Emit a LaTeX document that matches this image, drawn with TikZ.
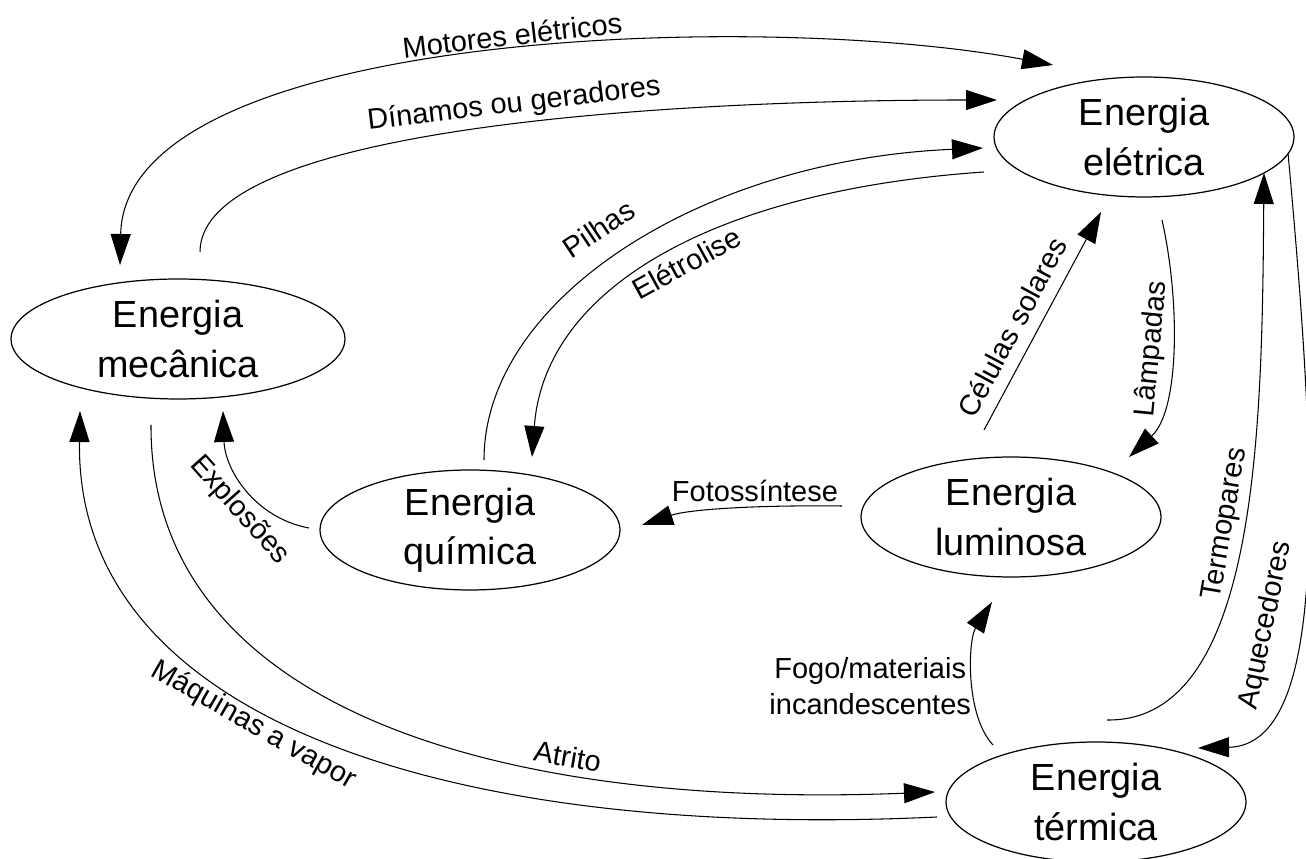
\documentclass[tikz,border=0pt]{standalone}
\usepackage{fontspec}
\setmainfont{Liberation Sans}
\usetikzlibrary{arrows.meta,shapes.geometric,calc}

\begin{document}
\begin{tikzpicture}[x=0.02cm,y=0.02cm,
  >={Triangle[length=0.62cm,width=0.4cm]},
  energy/.style={ellipse,draw,line width=0.7pt,minimum width=6cm,minimum height=2.4cm,
    inner sep=0pt,align=center,font=\fontsize{21.5}{28}\selectfont},
  flow/.style={line width=0.6pt},
  lbl/.style={font=\fontsize{16.5}{20.5}\selectfont,inner sep=3pt}]
  \useasboundingbox (0,0) rectangle (1306,859);
  % Forms of energy
  \node[energy] (ele) at (1144,722) {Energia\\elétrica};
  \node[energy,minimum width=6.68cm] (mec) at (178,520) {Energia\\mecânica};
  \node[energy] (qui) at (470,329) {Energia\\química};
  \node[energy] (lum) at (1011,342) {Energia\\luminosa};
  \node[energy] (ter) at (1096,57) {Energia\\térmica};
  % Top arcs
  \draw[flow,<->] ($(mec)+(-58,74)$) .. controls (125,829) and (760,849) .. ($(ele)+(-91,72)$)
    node[lbl,sloped,pos=0.53,above] {Motores elétricos};
  \draw[flow,->] ($(mec)+(22,87)$) .. controls (200,729) and (650,759) .. ($(ele)+(-147,37)$)
    node[lbl,sloped,pos=0.55,above] {Dínamos ou geradores};
  % Chemical <-> electric
  \draw[flow,->] ($(qui)+(14,70)$) .. controls (484,559) and (700,699) .. ($(ele)+(-161,-11)$)
    node[lbl,sloped,pos=0.48,above=9pt] {Pilhas};
  \draw[flow,->] ($(ele)+(-160,-35)$) .. controls (720,669) and (545,574) .. ($(qui)+(62,73)$)
    node[lbl,sloped,pos=0.47,below] {Elétrolise};
  \draw[flow,->] ($(qui)+(-161,2)$) .. controls (255,341) and (225,389) .. ($(mec)+(45,-72)$)
    node[lbl,sloped,pos=0.42,below] {Explosões};
  \draw[flow,->] ($(lum)+(-169,11)$) node[lbl,anchor=south east,inner sep=2pt] {Fotossíntese}
    .. controls (760,354) and (690,350) .. ($(qui)+(172,5)$);
  % Light <-> electric
  \draw[flow,->] ($(lum)+(-27,87)$) -- ($(ele)+(-43,-75)$)
    node[lbl,sloped,pos=0.42,above=4pt] {Células solares};
  \draw[flow,->] ($(ele)+(18,-83)$) .. controls (1180,559) and (1180,449) .. ($(lum)+(118,60)$)
    node[lbl,sloped,pos=0.5,above] {Lâmpadas};
  % Thermal
  \draw[flow,->] ($(ter)+(11,82)$) .. controls (1260,137) and (1262,439) .. ($(ele)+(120,-36)$)
    node[lbl,sloped,pos=0.52,above] {Termopares};
  \draw[flow,->] ($(ele)+(144,-16)$) .. controls (1318,379) and (1330,114) .. ($(ter)+(102,54)$)
    node[lbl,sloped,pos=0.6,above=6pt] {Aquecedores};
  \draw[flow,->] ($(ter)+(-103,57)$) .. controls (965,144) and (968,219) .. ($(lum)+(-19,-85)$)
    node[lbl,pos=0.44,left,align=center,inner sep=1pt] {Fogo/materiais\\incandescentes};
  % Bottom arcs
  \draw[flow,->] ($(mec)+(-27,-86)$) .. controls (150,159) and (480,49) .. ($(ter)+(-161,10)$)
    node[lbl,sloped,pos=0.7,above] {Atrito};
  \draw[flow,->] ($(ter)+(-159,-15)$) .. controls (450,19) and (75,139) .. ($(mec)+(-98,-72)$)
    node[lbl,sloped,pos=0.57,below] {Máquinas a vapor};
\end{tikzpicture}
\end{document}
